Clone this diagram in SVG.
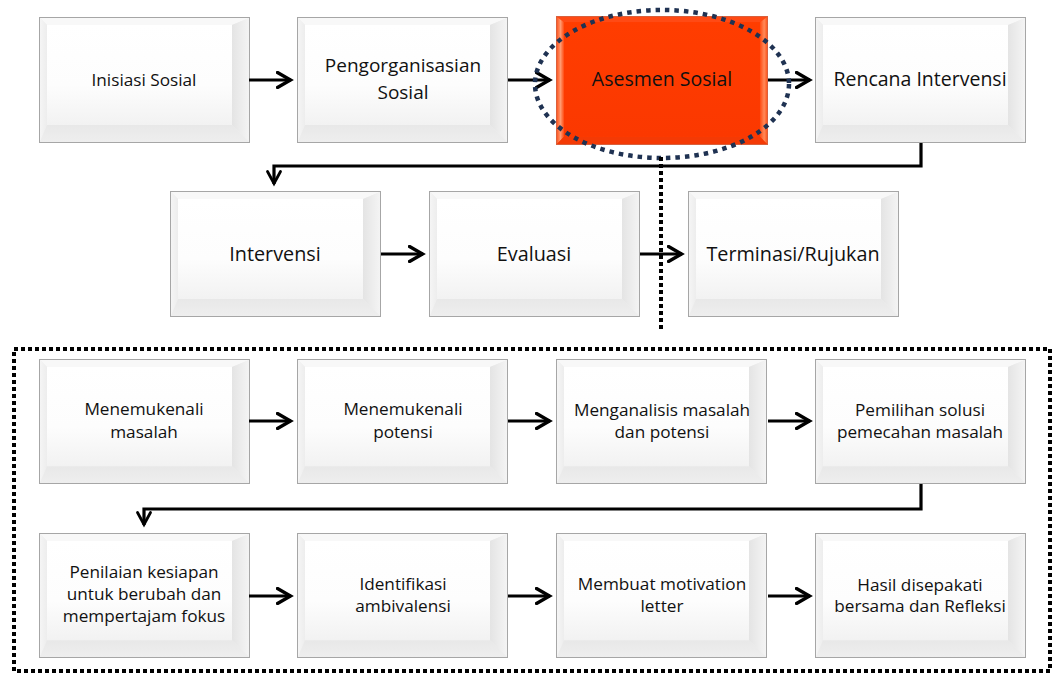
<svg xmlns="http://www.w3.org/2000/svg" width="1056" height="676" viewBox="0 0 1056 676">
<style>
.t{font-family:"Open Sans","Liberation Sans",sans-serif;fill:#111;text-anchor:middle}
.s{font-size:17.2px}
.m{font-size:19.5px}
.c{fill:none;stroke:#000;stroke-width:3.2}
.dot{fill:none;stroke:#000;stroke-width:4;stroke-dasharray:4 3}
</style>
<defs>
<linearGradient id="gFace" x1="0" y1="0" x2="0" y2="1"><stop offset="0" stop-color="#ffffff"/><stop offset="0.6" stop-color="#fdfdfd"/><stop offset="1" stop-color="#f2f2f2"/></linearGradient>
<linearGradient id="gRight" x1="0" y1="0" x2="1" y2="0"><stop offset="0" stop-color="#e4e4e4"/><stop offset="1" stop-color="#f4f4f4"/></linearGradient>
<linearGradient id="gLeft" x1="0" y1="0" x2="1" y2="0"><stop offset="0" stop-color="#f5f5f5"/><stop offset="1" stop-color="#ededed"/></linearGradient>
<linearGradient id="gBot" x1="0" y1="0" x2="0" y2="1"><stop offset="0" stop-color="#e8e8e8"/><stop offset="1" stop-color="#eeeeee"/></linearGradient>
<linearGradient id="rFace" x1="0" y1="0" x2="0" y2="1"><stop offset="0" stop-color="#ff3d00"/><stop offset="1" stop-color="#fb3800"/></linearGradient>
<linearGradient id="rRight" x1="0" y1="0" x2="1" y2="0"><stop offset="0" stop-color="#ff4a10"/><stop offset="0.6" stop-color="#ff8a5a"/><stop offset="1" stop-color="#ff5a20"/></linearGradient>
<linearGradient id="rLeft" x1="0" y1="0" x2="1" y2="0"><stop offset="0" stop-color="#ff5a25"/><stop offset="0.5" stop-color="#ff9a70"/><stop offset="1" stop-color="#ff4a10"/></linearGradient>
<symbol id="bev" viewBox="0 0 211 126" preserveAspectRatio="none">
<rect x="0.5" y="0.5" width="210" height="125" fill="#efefef" stroke="#a6a6a6"/>
<polygon points="1,1 210,1 193,8 8,8" fill="#f8f8f8"/>
<polygon points="1,1 8,8 8,108 1,125" fill="url(#gLeft)"/>
<polygon points="210,1 210,125 193,108 193,8" fill="url(#gRight)"/>
<polygon points="1,125 8,108 193,108 210,125" fill="url(#gBot)"/>
<rect x="8" y="8" width="185" height="100" fill="url(#gFace)"/>
</symbol>
<symbol id="bevR" viewBox="0 0 211 126" preserveAspectRatio="none">
<rect x="0.5" y="0.5" width="210" height="125" fill="#ff4000" stroke="#d9603c"/>
<polygon points="1,1 210,1 203,6 8,6" fill="#ff4a14"/>
<polygon points="1,1 8,6 8,118 1,125" fill="url(#rLeft)"/>
<polygon points="210,1 210,125 203,118 203,6" fill="url(#rRight)"/>
<polygon points="1,125 8,118 203,118 210,125" fill="#f43a05"/>
<rect x="8" y="6" width="195" height="112" fill="url(#rFace)"/>
</symbol>
<marker id="ah" markerUnits="userSpaceOnUse" viewBox="0 0 18 18" markerWidth="18" markerHeight="18" refX="15.5" refY="9" orient="auto">
<path d="M2,1.5 L15,9 L2,16.5" fill="none" stroke="#000" stroke-width="3.4" stroke-linecap="round" stroke-linejoin="miter"/>
</marker>
<marker id="ahs" markerUnits="userSpaceOnUse" viewBox="0 0 18 18" markerWidth="18" markerHeight="18" refX="15.5" refY="9" orient="auto">
<path d="M3,2.5 L15,9 L3,15.5" fill="none" stroke="#000" stroke-width="2.8" stroke-linecap="round"/>
</marker>
</defs>
<rect width="1056" height="676" fill="#ffffff"/>

<g id="n1"><use href="#bev" x="39" y="17" width="211" height="126"/><text class="t s" x="144" y="86">Inisiasi Sosial</text></g>
<g id="n2"><use href="#bev" x="297" y="17" width="211" height="126"/><text class="t" x="403" y="72" font-size="19">Pengorganisasian</text><text class="t" x="403" y="99" font-size="19">Sosial</text></g>
<g id="n3"><use href="#bevR" x="556" y="16" width="212" height="129"/><text class="t m" x="662" y="86">Asesmen Sosial</text></g>
<g id="n4"><use href="#bev" x="815" y="17" width="211" height="126"/><text class="t m" x="920" y="86">Rencana Intervensi</text></g>

<g id="n5"><use href="#bev" x="170" y="191" width="211" height="126"/><text class="t" x="275" y="261" font-size="19.8">Intervensi</text></g>
<g id="n6"><use href="#bev" x="429" y="191" width="211" height="126"/><text class="t" x="534" y="261" font-size="19.8">Evaluasi</text></g>
<g id="n7"><use href="#bev" x="688" y="191" width="211" height="126"/><text class="t" x="793" y="261" font-size="19.8">Terminasi/Rujukan</text></g>

<g id="n8"><use href="#bev" x="39" y="359" width="211" height="125"/><text class="t s" x="144" y="415">Menemukenali</text><text class="t s" x="144" y="438">masalah</text></g>
<g id="n9"><use href="#bev" x="297" y="359" width="211" height="125"/><text class="t s" x="403" y="415">Menemukenali</text><text class="t s" x="403" y="438">potensi</text></g>
<g id="n10"><use href="#bev" x="556" y="359" width="211" height="125"/><text class="t s" x="662" y="416">Menganalisis masalah</text><text class="t s" x="662" y="438">dan potensi</text></g>
<g id="n11"><use href="#bev" x="815" y="359" width="211" height="125"/><text class="t s" x="920" y="416">Pemilihan solusi</text><text class="t s" x="920" y="438">pemecahan masalah</text></g>

<g id="n12"><use href="#bev" x="39" y="533" width="211" height="125"/><text class="t s" x="144" y="578">Penilaian kesiapan</text><text class="t s" x="144" y="600">untuk berubah dan</text><text class="t s" x="144" y="622">mempertajam fokus</text></g>
<g id="n13"><use href="#bev" x="297" y="533" width="211" height="125"/><text class="t s" x="403" y="590">Identifikasi</text><text class="t s" x="403" y="612">ambivalensi</text></g>
<g id="n14"><use href="#bev" x="556" y="533" width="211" height="125"/><text class="t s" x="662" y="590">Membuat motivation</text><text class="t s" x="662" y="612">letter</text></g>
<g id="n15"><use href="#bev" x="815" y="533" width="211" height="125"/><text class="t s" x="920" y="591">Hasil disepakati</text><text class="t s" x="920" y="612">bersama dan Refleksi</text></g>

<g id="connectors">
<path class="c" d="M249,80 H291" marker-end="url(#ah)"/>
<path class="c" d="M508,80 H550" marker-end="url(#ah)"/>
<path class="c" d="M768,80 H810" marker-end="url(#ah)"/>
<path class="c" d="M921,143 V166 H274 V184" marker-end="url(#ahs)"/>
<path class="c" d="M381,254 H423" marker-end="url(#ah)"/>
<path class="c" d="M640,254 H682" marker-end="url(#ah)"/>
<path class="c" d="M249,421 H291" marker-end="url(#ah)"/>
<path class="c" d="M508,421 H550" marker-end="url(#ah)"/>
<path class="c" d="M768,421 H810" marker-end="url(#ah)"/>
<path class="c" d="M921,484 V509 H144 V525" marker-end="url(#ahs)"/>
<path class="c" d="M249,596 H291" marker-end="url(#ah)"/>
<path class="c" d="M508,596 H550" marker-end="url(#ah)"/>
<path class="c" d="M768,596 H810" marker-end="url(#ah)"/>
</g>
<g id="highlight">
<ellipse cx="662" cy="84" rx="127" ry="74" fill="none" stroke="#1f3252" stroke-width="4.5" stroke-dasharray="4.5 5"/>
<path class="dot" d="M661,157 V331"/>
<rect class="dot" x="14" y="349" width="1036" height="322"/>
</g>
</svg>
